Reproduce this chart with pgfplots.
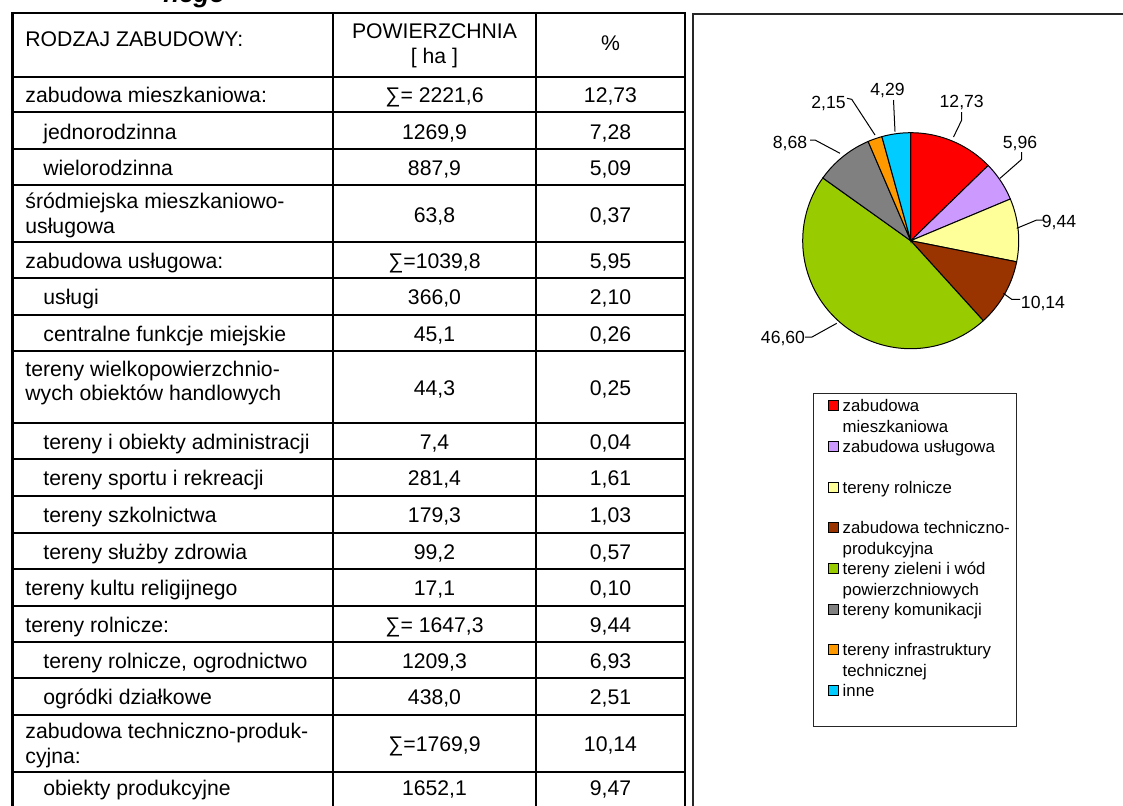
\documentclass[border=0pt]{standalone}
\usepackage{pgfplots}
\pgfplotsset{compat=1.18}
\usepackage{fontspec}
\setmainfont{Liberation Sans}
\definecolor{cR}{HTML}{FF0000}
\definecolor{cL}{HTML}{CC99FF}
\definecolor{cY}{HTML}{FFFF99}
\definecolor{cB}{HTML}{993300}
\definecolor{cG}{HTML}{99CC00}
\definecolor{cGr}{HTML}{808080}
\definecolor{cO}{HTML}{FF9900}
\definecolor{cC}{HTML}{00CCFF}
\newcommand\tf{\fontsize{10.6}{12.5}\selectfont}
\newcommand\lf{\fontsize{8.8}{10}\selectfont}
\newcommand\gf{\fontsize{8.4}{10}\selectfont}
\newcommand\TL[3]{\node[anchor=base west,inner sep=0,font=\tf] at (#1,#2) {#3};}
\newcommand\TV[3]{\node[anchor=base,inner sep=0,font=\tf] at (434.5,#1) {#2};
  \node[anchor=base,inner sep=0,font=\tf] at (610.5,#1) {#3};}
\newcommand\LG[3]{\draw[fill=#1,line width=0.5pt] (828,{#2-11}) rectangle (838,{#2-1});
  \node[anchor=base west,inner sep=0,font=\gf] at (842.3,#2) {#3};}
\newcommand\LGb[2]{\node[anchor=base west,inner sep=0,font=\gf] at (842.3,#1) {#2};}
\newcommand\cum{0}
\newcommand\slice[2]{%
  \pgfmathsetmacro\aS{90-3.6*(\cum+#1)}%
  \pgfmathsetmacro\aE{90-3.6*\cum}%
  \addplot[draw=black,line width=0.5pt,fill=#2,domain=\aS:\aE,samples=90,variable=\t]
    ({cos(\t)},{sin(\t)}) -- (axis cs:0,0) -- cycle;
  \pgfmathsetmacro\tmp{\cum+#1}\xdef\cum{\tmp}%
}
\begin{document}
\begin{tikzpicture}[x=0.5pt,y=-0.5pt]
\useasboundingbox (0,0) rectangle (1123,805);
\clip (0,0) rectangle (1123,805);
\fill[white] (0,0) rectangle (1123,805);
\node[anchor=base west,inner sep=0,font=\fontsize{13}{15}\selectfont\bfseries\itshape] at (163,2) {nego};
% table grid
\begin{scope}[line width=1.1pt,line cap=rect]
\foreach \xx in {12.5,333,536,685} \draw (\xx,13) -- (\xx,830);
\foreach \yy in {13,77,112,149,185,242,278,315,351,423,459,496,533,569,606,642,678,715,772}
  \draw (12.5,\yy) -- (685,\yy);
\end{scope}
% header
\TL{25}{46.5}{RODZAJ ZABUDOWY:}
\node[anchor=base,inner sep=0,font=\tf] at (434.5,38) {POWIERZCHNIA};
\node[anchor=base,inner sep=0,font=\tf] at (434.5,63) {[ ha ]};
\node[anchor=base,inner sep=0,font=\tf] at (610.5,50) {\%};
% rows
\TL{25}{102}{zabudowa mieszkaniowa:}\TV{102}{∑= 2221,6}{12,73}
\TL{43}{139}{jednorodzinna}\TV{139}{1269,9}{7,28}
\TL{43}{175.5}{wielorodzinna}\TV{175.5}{887,9}{5,09}
\TL{25}{208}{śródmiejska mieszkaniowo-}\TL{25}{233}{usługowa}\TV{222}{63,8}{0,37}
\TL{25}{268}{zabudowa usługowa:}\TV{268}{∑=1039,8}{5,95}
\TL{43}{304.5}{usługi}\TV{304.5}{366,0}{2,10}
\TL{43}{341}{centralne funkcje miejskie}\TV{341}{45,1}{0,26}
\TL{25}{376}{tereny wielkopowierzchnio-}\TL{25}{400}{wych obiektów handlowych}\TV{395}{44,3}{0,25}
\TL{43}{449}{tereny i obiekty administracji}\TV{449}{7,4}{0,04}
\TL{43}{485.5}{tereny sportu i rekreacji}\TV{485.5}{281,4}{1,61}
\TL{43}{522.5}{tereny szkolnictwa}\TV{522.5}{179,3}{1,03}
\TL{43}{559}{tereny służby zdrowia}\TV{559}{99,2}{0,57}
\TL{25}{595.5}{tereny kultu religijnego}\TV{595.5}{17,1}{0,10}
\TL{25}{632}{tereny rolnicze:}\TV{632}{∑= 1647,3}{9,44}
\TL{43}{668}{tereny rolnicze, ogrodnictwo}\TV{668}{1209,3}{6,93}
\TL{43}{704.5}{ogródki działkowe}\TV{704.5}{438,0}{2,51}
\TL{25}{738}{zabudowa techniczno-produk-}\TL{25}{763}{cyjna:}\TV{751}{∑=1769,9}{10,14}
\TL{43}{795}{obiekty produkcyjne}\TV{795}{1652,1}{9,47}
% chart frame
\draw[line width=1pt,black!85] (693,830) -- (693,14) -- (1140,14);
% pie (centre at pixel 910.7,240.7 -> 455.35pt,-120.35pt)
\begin{axis}[at={(455.35pt,-120.35pt)},anchor=center,hide axis,x=54pt,y=54pt,
  xmin=-1.2,xmax=1.2,ymin=-1.2,ymax=1.2,clip=false]
\slice{12.73}{cR}
\slice{5.96}{cL}
\slice{9.44}{cY}
\slice{10.14}{cB}
\slice{46.60}{cG}
\slice{8.68}{cGr}
\slice{2.15}{cO}
\slice{4.29}{cC}
\end{axis}
% data labels and leaders
\begin{scope}[line width=0.5pt]
\draw (961.7,112) -- (961.7,120) -- (953.5,137);
\draw (1021.7,152) -- (1021.7,159.3) -- (1000,178.3);
\draw (1043,220) -- (1036.7,220) -- (1016.7,228.3);
\draw (1020,299.3) -- (1011.7,299.3) -- (1003.3,293.3);
\draw (805,337) -- (812,337) -- (836.7,323.3);
\draw (810,140) -- (815,140) -- (840,153.3);
\draw (847,98.3) -- (851.7,99.3) -- (875,135);
\draw (893.5,100) -- (895,131.7);
\end{scope}
\node[anchor=base,inner sep=0,font=\lf] at (961.7,107.5) {12,73};
\node[anchor=base,inner sep=0,font=\lf] at (1020,148) {5,96};
\node[anchor=base,inner sep=0,font=\lf] at (1059,227) {9,44};
\node[anchor=base,inner sep=0,font=\lf] at (1043,308) {10,14};
\node[anchor=base,inner sep=0,font=\lf] at (783,343) {46,60};
\node[anchor=base,inner sep=0,font=\lf] at (790,148) {8,68};
\node[anchor=base,inner sep=0,font=\lf] at (828.5,108) {2,15};
\node[anchor=base,inner sep=0,font=\lf] at (887.5,95) {4,29};
% legend
\draw[line width=0.6pt,black!85] (813.3,393.3) rectangle (1016.7,726.7);
\LG{cR}{411.7}{zabudowa}\LGb{432.3}{mieszkaniowa}
\LG{cL}{452.4}{zabudowa usługowa}
\LG{cY}{493.1}{tereny rolnicze}
\LG{cB}{533.8}{zabudowa techniczno-}\LGb{554.4}{produkcyjna}
\LG{cG}{574.5}{tereny zieleni i wód}\LGb{595.1}{powierzchniowych}
\LG{cGr}{615.2}{tereny komunikacji}
\LG{cO}{655.9}{tereny infrastruktury}\LGb{676.5}{technicznej}
\LG{cC}{696.6}{inne}
\end{tikzpicture}
\end{document}
